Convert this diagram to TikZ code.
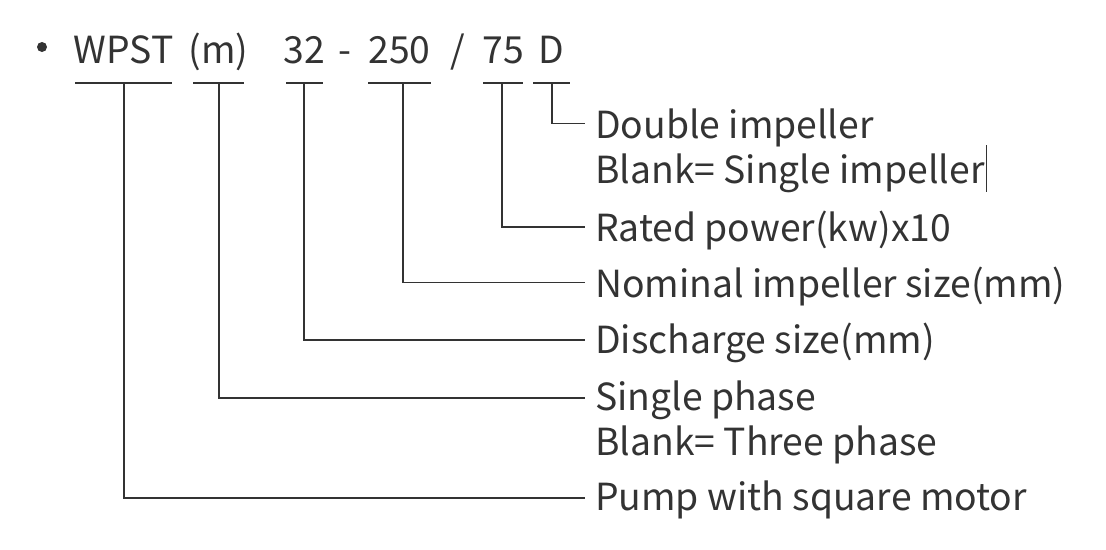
\documentclass[tikz,border=0pt]{standalone}
\usepackage{fontspec}
\setmainfont{Noto Sans CJK SC}
\definecolor{ink}{HTML}{333333}
\begin{document}
\begin{tikzpicture}[x=1pt,y=-1pt,
  txt/.style={inner sep=0pt,anchor=base,text=ink,font=\fontsize{37.3}{44}\selectfont},
  lab/.style={inner sep=0pt,anchor=base west,text=ink,font=\fontsize{37.3}{44}\selectfont},
  ul/.style={draw=ink,line width=1.4pt},
  conn/.style={draw=ink,line width=1.4pt}]
\useasboundingbox (0,0) rectangle (1106,549);
% bullet
\node[fill=ink,circle,inner sep=0pt,minimum size=10pt] (bul) at (42,47) {};
% top tokens
\node[txt] (t1) at (123.5,63) {WPST};
\node[txt] (t2) at (218.5,63) {(m)};
\node[txt] (t3) at (304.5,63) {32};
\node[txt] (dash) at (345,63) {-};
\node[txt] (t4) at (399.5,63) {250};
\node[txt] (slash) at (458,63) {/};
\node[txt] (t5) at (503,63) {75};
\node[txt] (t6) at (551.5,63) {D};
% underlines
\draw[ul] (75,83) -- (172,83);
\draw[ul] (193,83) -- (244,83);
\draw[ul] (286,83) -- (323,83);
\draw[ul] (368,83) -- (431,83);
\draw[ul] (483,83) -- (523,83);
\draw[ul] (533,83) -- (570,83);
\coordinate (u1) at (124,83);
\coordinate (u2) at (219,83);
\coordinate (u3) at (304,83);
\coordinate (u4) at (403,83);
\coordinate (u5) at (502,83);
\coordinate (u6) at (552,83);
% labels
\node[lab] (l6) at (595,138) {Double impeller};
\node[lab] (l6b) at (595,183) {Blank= Single impeller};
\node[lab] (l5) at (595,241) {Rated power(kw)x10};
\node[lab] (l4) at (595,297) {Nominal impeller size(mm)};
\node[lab] (l3) at (595,353) {Discharge size(mm)};
\node[lab] (l2) at (595,410) {Single phase};
\node[lab] (l2b) at (595,455) {Blank= Three phase};
\node[lab] (l1) at (595,510) {Pump with square motor};
% connectors
\draw[conn] (u6) |- ([xshift=-10pt,yshift=14.5pt]l6.base west);
\draw[conn] (u5) |- ([xshift=-10pt,yshift=14pt]l5.base west);
\draw[conn] (u4) |- ([xshift=-10pt,yshift=14.5pt]l4.base west);
\draw[conn] (u3) |- ([xshift=-10pt,yshift=13pt]l3.base west);
\draw[conn] (u2) |- ([xshift=-10pt,yshift=12pt]l2.base west);
\draw[conn] (u1) |- ([xshift=-10pt,yshift=12pt]l1.base west);
% caret mark
\coordinate (c1) at (986,145);
\coordinate (c2) at (986,192);
\draw[ink,line width=1pt] (c1) -- (c2);
\end{tikzpicture}
\end{document}
